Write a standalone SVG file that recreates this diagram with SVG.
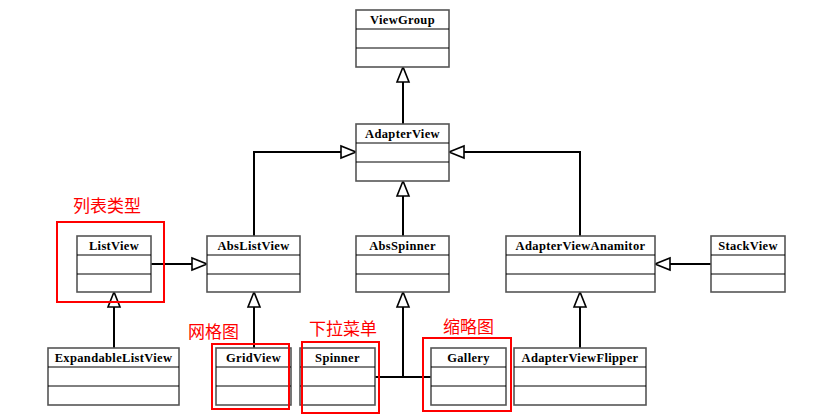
<svg xmlns="http://www.w3.org/2000/svg" width="828" height="420" viewBox="0 0 828 420">
<style>
.box{fill:#fff;stroke:#555;stroke-width:1.6}
.sep{stroke:#000;stroke-width:1}
.name{font-family:"Liberation Serif","Times New Roman","DejaVu Serif",serif;font-weight:bold;font-size:12.5px;letter-spacing:0.35px;text-anchor:middle;fill:#000}
.conn{fill:none;stroke:#000;stroke-width:2}
.tri{fill:#fff;stroke:#000;stroke-width:1.6}
.hl{fill:none;stroke:#f00;stroke-width:2}
.lbl{font-family:"Noto Sans CJK SC","Noto Sans",sans-serif;font-size:17px;fill:#f00}
</style>
<rect width="828" height="420" fill="#fff"/>
<g id="connectors">
<path class="conn" d="M403 124V82"/>
<polygon class="tri" points="403,67 397,82 409,82"/>
<path class="conn" d="M254 236V152H341"/>
<polygon class="tri" points="356,152 341,146 341,158"/>
<path class="conn" d="M403 236V196"/>
<polygon class="tri" points="403,181 397,196 409,196"/>
<path class="conn" d="M580 236V152H464"/>
<polygon class="tri" points="449,152 464,146 464,158"/>
<path class="conn" d="M151 264H192"/>
<polygon class="tri" points="207,264 192,258 192,270"/>
<path class="conn" d="M711 264H670"/>
<polygon class="tri" points="655,264 670,258 670,270"/>
<path class="conn" d="M114 348V307"/>
<polygon class="tri" points="114,292 108,307 120,307"/>
<path class="conn" d="M254 348V307"/>
<polygon class="tri" points="254,292 248,307 260,307"/>
<path class="conn" d="M375 377H431M403 377V307"/>
<polygon class="tri" points="403,292 397,307 409,307"/>
<path class="conn" d="M580 348V307"/>
<polygon class="tri" points="580,292 574,307 586,307"/>
</g>
<g id="ViewGroup"><rect class="box" x="356" y="10" width="93" height="57"/><path class="sep" d="M356 29H449M356 48H449"/><text class="name" x="402.5" y="24">ViewGroup</text></g>
<g id="AdapterView"><rect class="box" x="356" y="124" width="93" height="57"/><path class="sep" d="M356 143H449M356 162H449"/><text class="name" x="402.5" y="138">AdapterView</text></g>
<g id="ListView"><rect class="box" x="77" y="236" width="74" height="56"/><path class="sep" d="M77 255H151M77 274H151"/><text class="name" x="114" y="250">ListView</text></g>
<g id="AbsListView"><rect class="box" x="207" y="236" width="93" height="56"/><path class="sep" d="M207 255H300M207 274H300"/><text class="name" x="253.5" y="250">AbsListView</text></g>
<g id="AbsSpinner"><rect class="box" x="356" y="236" width="93" height="56"/><path class="sep" d="M356 255H449M356 274H449"/><text class="name" x="402.5" y="250">AbsSpinner</text></g>
<g id="AdapterViewAnamitor"><rect class="box" x="506" y="236" width="149" height="56"/><path class="sep" d="M506 255H655M506 274H655"/><text class="name" x="580.5" y="250">AdapterViewAnamitor</text></g>
<g id="StackView"><rect class="box" x="711" y="236" width="74" height="56"/><path class="sep" d="M711 255H785M711 274H785"/><text class="name" x="748" y="250">StackView</text></g>
<g id="ExpandableListView"><rect class="box" x="48" y="348" width="131" height="57"/><path class="sep" d="M48 367H179M48 386H179"/><text class="name" x="113.5" y="362">ExpandableListView</text></g>
<g id="GridView"><rect class="box" x="216" y="348" width="75" height="57"/><path class="sep" d="M216 367H291M216 386H291"/><text class="name" x="253.5" y="362">GridView</text></g>
<g id="Spinner"><rect class="box" x="300" y="348" width="75" height="57"/><path class="sep" d="M300 367H375M300 386H375"/><text class="name" x="337.5" y="362">Spinner</text></g>
<g id="Gallery"><rect class="box" x="431" y="348" width="75" height="57"/><path class="sep" d="M431 367H506M431 386H506"/><text class="name" x="468.5" y="362">Gallery</text></g>
<g id="AdapterViewFlipper"><rect class="box" x="514" y="348" width="132" height="57"/><path class="sep" d="M514 367H646M514 386H646"/><text class="name" x="580" y="362">AdapterViewFlipper</text></g>
<g id="highlights">
<rect class="hl" x="57" y="222" width="107" height="80"/>
<text class="lbl" x="73" y="212">列表类型</text>
<rect class="hl" x="212" y="344" width="77" height="65"/>
<text class="lbl" x="188" y="338">网格图</text>
<rect class="hl" x="302" y="342" width="77" height="71"/>
<text class="lbl" x="309" y="335">下拉菜单</text>
<rect class="hl" x="423" y="338" width="88" height="73"/>
<text class="lbl" x="443" y="333">缩略图</text>
</g>
</svg>
